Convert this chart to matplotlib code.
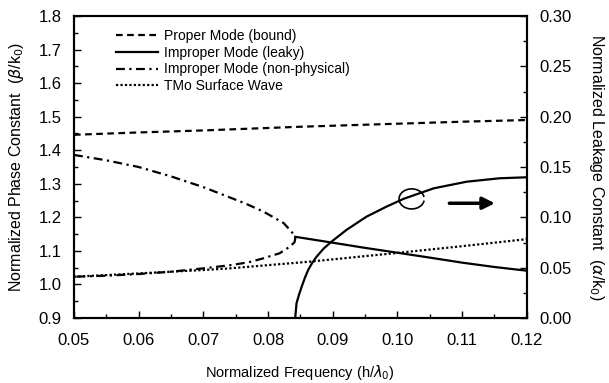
import matplotlib
matplotlib.use("Agg")
import matplotlib.pyplot as plt
from matplotlib.patches import Arc
from matplotlib.ticker import MultipleLocator

plt.rcParams["font.family"] = ["Liberation Sans", "DejaVu Sans"]

# proper mode (bound), phase constant
proper_f = [0.05, 0.06, 0.07, 0.085, 0.10, 0.11, 0.12]
proper_b = [1.446, 1.453, 1.459, 1.470, 1.479, 1.485, 1.490]

# improper non-physical: upper branch down to the nose, then lower branch back
nonphys_f = [0.05, 0.055, 0.06, 0.065, 0.07, 0.0764, 0.0793, 0.0824, 0.0836, 0.0841, 0.0842,
             0.0841, 0.0834, 0.0818, 0.0793, 0.077, 0.074, 0.07, 0.065, 0.06, 0.055, 0.05]
nonphys_b = [1.386, 1.370, 1.350, 1.322, 1.290, 1.242, 1.217, 1.183, 1.158, 1.145, 1.136,
             1.126, 1.113, 1.093, 1.078, 1.066, 1.057, 1.048, 1.038, 1.031, 1.026, 1.023]

# improper leaky mode, phase constant (left axis)
leaky_f = [0.0842, 0.0898, 0.095, 0.1019, 0.105, 0.110, 0.115, 0.12]
leaky_b = [1.142, 1.125, 1.109, 1.089, 1.080, 1.065, 1.052, 1.041]

# improper leaky mode, leakage constant (right axis)
alpha_f = [0.0842, 0.0844, 0.0848, 0.0852, 0.0857, 0.0862, 0.0868, 0.0875, 0.0886, 0.0898,
           0.0921, 0.0952, 0.0983, 0.1010, 0.1056, 0.1107, 0.1158, 0.12]
alpha_v = [0.0, 0.0146, 0.0235, 0.0311, 0.0400, 0.0477, 0.0545, 0.0609, 0.0690, 0.0758,
           0.0874, 0.1006, 0.1106, 0.1185, 0.1288, 0.1354, 0.1388, 0.1398]

# TM0 surface wave
tm_f = [0.05, 0.06, 0.07, 0.0741, 0.0865, 0.0896, 0.10, 0.11, 0.12]
tm_b = [1.023, 1.033, 1.043, 1.048, 1.068, 1.074, 1.094, 1.114, 1.135]

fig = plt.figure(figsize=(6.09, 3.83), dpi=100)
ax = fig.add_axes([0.1215, 0.1697, 0.7435, 0.7885])
ax2 = ax.twinx()

lw = 1.6
ax.plot(proper_f, proper_b, color="black", lw=lw, linestyle=(0, (3, 2)), label="Proper Mode (bound)")
ax.plot(leaky_f, leaky_b, color="black", lw=lw, label="Improper Mode (leaky)")
ax.plot(nonphys_f, nonphys_b, color="black", lw=lw, linestyle=(0, (4, 2, 1, 2)),
        label="Improper Mode (non-physical)")
ax.plot(tm_f, tm_b, color="black", lw=lw, linestyle=(0, (1, 1)), label="TMo Surface Wave")
ax2.plot(alpha_f, alpha_v, color="black", lw=lw)

ax.set_xlim(0.05, 0.12)
ax.set_ylim(0.9, 1.8)
ax2.set_ylim(0.0, 0.30)

ax.xaxis.set_major_locator(MultipleLocator(0.01))
ax.xaxis.set_minor_locator(MultipleLocator(0.005))
ax.yaxis.set_major_locator(MultipleLocator(0.1))
ax.yaxis.set_minor_locator(MultipleLocator(0.05))
ax2.yaxis.set_major_locator(MultipleLocator(0.05))
ax2.yaxis.set_minor_locator(MultipleLocator(0.025))

ax.xaxis.set_major_formatter(plt.FuncFormatter(lambda v, p: f"{v:.2f}"))
ax.yaxis.set_major_formatter(plt.FuncFormatter(lambda v, p: f"{v:.1f}"))
ax2.yaxis.set_major_formatter(plt.FuncFormatter(lambda v, p: f"{v:.2f}"))

ax.tick_params(axis="both", which="both", direction="in", labelsize=12, top=False)
ax.tick_params(which="major", length=5, width=1)
ax.tick_params(which="minor", length=3, width=1)
ax.tick_params(axis="x", pad=11)
ax.tick_params(axis="y", pad=9)
ax2.tick_params(axis="y", which="both", direction="in", labelsize=12, pad=9)
ax2.tick_params(which="major", length=5, width=1)
ax2.tick_params(which="minor", length=3, width=1)

for a in (ax, ax2):
    for s in a.spines.values():
        s.set_linewidth(1.5)

ax.set_xlabel(r"Normalized Frequency (h/$\lambda_0$)", fontsize=10.5)
ax.xaxis.set_label_coords(0.5, -0.148)
ax.set_ylabel(r"Normalized Phase Constant  ($\beta$/k$_0$)", fontsize=11.5)
ax.yaxis.set_label_coords(-0.105, 0.5)
ax2.set_ylabel(r"Normalized Leakage Constant  ($\alpha$/k$_0$)", fontsize=11.5, rotation=-90, va="center")
ax2.yaxis.set_label_coords(1.153, 0.5)

ax.legend(loc="upper left", bbox_to_anchor=(0.075, 0.985), frameon=False, fontsize=10,
          handlelength=3.0, handletextpad=0.4, labelspacing=0.2, borderaxespad=0.2)

# annotation: circle on the leakage curve and arrow to the right axis
ax2.add_patch(Arc((0.1022, 0.1183), 0.0039, 0.0199, theta1=45, theta2=320, color="black", lw=1.2))
ax2.annotate("", xy=(0.1155, 0.114), xytext=(0.1076, 0.114),
             arrowprops=dict(arrowstyle="-|>", color="black", lw=2.5, mutation_scale=18))

fig.savefig("out.png", dpi=100)
